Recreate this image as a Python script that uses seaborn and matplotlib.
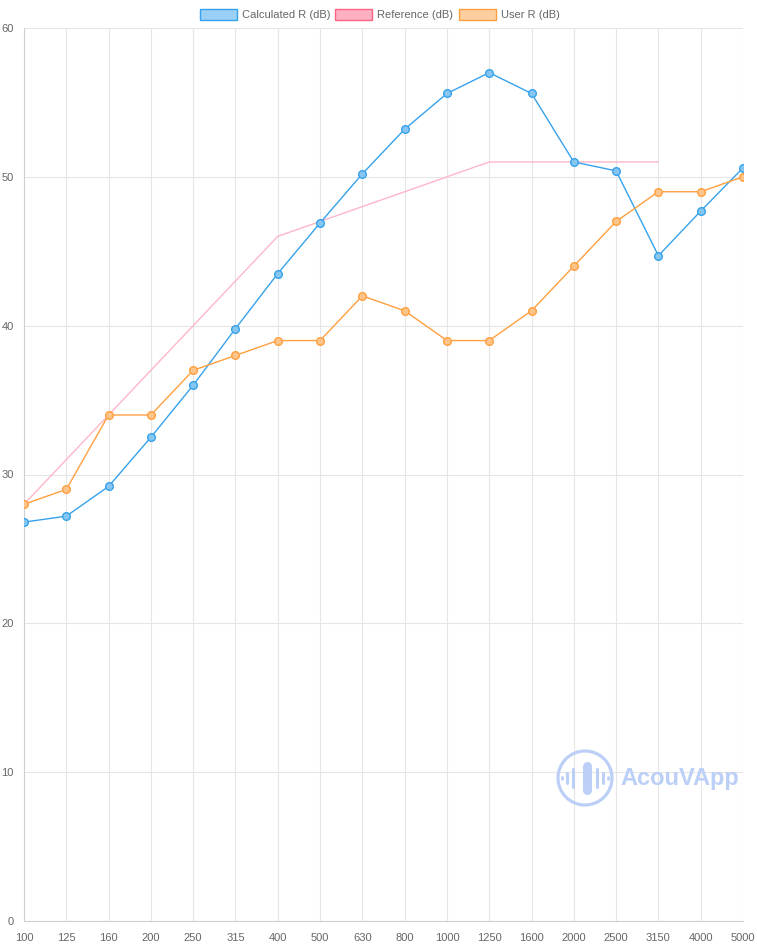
import matplotlib
matplotlib.use("Agg")
import matplotlib.pyplot as plt
import seaborn as sns
import pandas as pd
import numpy as np
from matplotlib.patches import Circle, Rectangle
from matplotlib.lines import Line2D
from matplotlib.transforms import IdentityTransform

freqs = ["100", "125", "160", "200", "250", "315", "400", "500", "630", "800",
         "1000", "1250", "1600", "2000", "2500", "3150", "4000", "5000"]
calculated = [26.8, 27.2, 29.2, 32.5, 36.0, 39.8, 43.5, 46.9, 50.2, 53.2,
              55.6, 57.0, 55.6, 51.0, 50.4, 44.7, 47.7, 50.6]
reference = [28, 31, 34, 37, 40, 43, 46, 47, 48, 49, 50, 51, 51, 51, 51, 51,
             np.nan, np.nan]
user = [28, 29, 34, 34, 37, 38, 39, 39, 42, 41, 39, 39, 41, 44, 47, 49, 49, 50]

series_names = ["Calculated R (dB)", "Reference (dB)", "User R (dB)"]
line_colors = ["#36a2eb", "#ffb6c8", "#ff9f40"]
fill_colors = ["#9ad0f5", "#ffb1c1", "#ffcf9f"]
edge_colors = ["#36a2eb", "#ff6384", "#ff9f40"]

sns.set_style("white")
plt.rcParams['font.family'] = ['Liberation Sans', 'DejaVu Sans']

fig = plt.figure(figsize=(7.57, 9.48), dpi=100)
ax = fig.add_axes([24/757, 27/948, (743-24)/757, (921-28)/948])

x = np.arange(len(freqs))
df = pd.DataFrame({"freq": freqs, "idx": x, "calc": calculated, "ref": reference, "user": user})

sns.lineplot(data=df, x="idx", y="ref", ax=ax, color=line_colors[1], linewidth=1.0,
             zorder=3)
sns.lineplot(data=df, x="idx", y="calc", ax=ax, color=line_colors[0], linewidth=1.0,
             marker="o", markersize=5.5, markerfacecolor="#86c6f1",
             markeredgecolor=line_colors[0], markeredgewidth=1.0, zorder=4)
sns.lineplot(data=df, x="idx", y="user", ax=ax, color=line_colors[2], linewidth=1.0,
             marker="o", markersize=5.5, markerfacecolor="#ffc48a",
             markeredgecolor=line_colors[2], markeredgewidth=1.0, zorder=5)

ax.set_xlim(0, len(freqs) - 1)
ax.set_ylim(0, 60)
ax.set_xticks(x)
ax.set_xticklabels(freqs)
ax.set_yticks(range(0, 61, 10))
ax.set_xlabel("")
ax.set_ylabel("")
ax.grid(True, color="#e6e6e6", linewidth=0.8, zorder=0)
ax.set_axisbelow(True)
for side in ["top", "right"]:
    ax.spines[side].set_visible(False)
for side in ["left", "bottom"]:
    ax.spines[side].set_color("#d0d0d0")
    ax.spines[side].set_linewidth(0.8)
ax.tick_params(axis="both", length=5.8, width=0.8, color="#e6e6e6",
               labelsize=8, labelcolor="#666666")
ax.tick_params(axis="y", pad=1.5)
ax.tick_params(axis="x", pad=2.5)

# Legend (Chart.js style boxes)
box_w, box_h = 37/757, 11/948
starts = [200, 335, 459]
for i, name in enumerate(series_names):
    x0 = starts[i] / 757
    y0 = 1 - 20/948
    fig.patches.append(Rectangle((x0, y0), box_w, box_h, transform=fig.transFigure,
                                 facecolor=fill_colors[i], edgecolor=edge_colors[i],
                                 linewidth=1.0))
    fig.text(x0 + box_w + 5/757, y0 + box_h/2, name, fontsize=8, color="#666666",
             va="center", ha="left")

# Watermark
wm = "#bccff7"
cy = 948 - 778
circ = Circle((585, cy), 27, transform=IdentityTransform(), fill=False,
              edgecolor=wm, linewidth=2.3)
fig.add_artist(circ)
bars = [(562, 1.0, 2.0), (567, 5, 2.2), (573, 9, 2.2), (587, 12, 6.5),
        (597, 9, 2.2), (603, 5, 2.2), (608, 1.0, 2.0)]
for bx, bh, lw in bars:
    fig.add_artist(Line2D([bx, bx], [cy - bh, cy + bh], transform=IdentityTransform(),
                          color=wm, linewidth=lw, solid_capstyle="round"))
fig.text(620/757, 1 - 779/948, "AcouVApp", fontsize=17, fontweight="bold", color=wm,
         va="center", ha="left")

fig.savefig("out.png", dpi=100)
